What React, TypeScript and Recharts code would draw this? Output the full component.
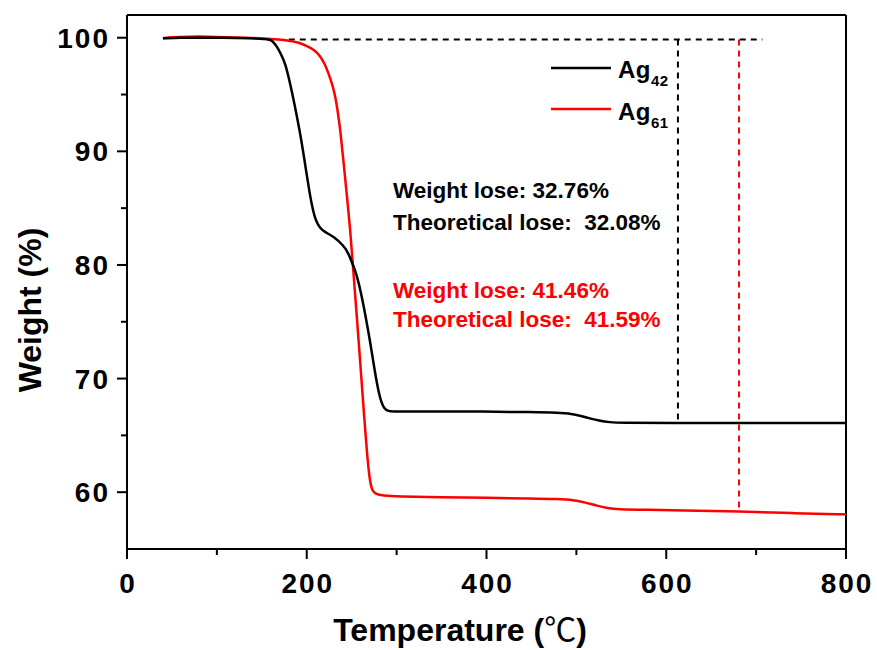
import { LineChart, Line, XAxis, YAxis, ReferenceLine } from 'recharts';

// TGA curves
const ag42Temp = [40, 60, 80, 100, 120, 140, 155, 160, 163, 167, 171, 176, 182, 186, 192, 197, 203.5, 207, 210, 215, 220, 230, 241, 246, 252, 256, 260, 265, 270, 276, 280, 283, 286, 290, 295, 320, 400, 450, 480, 495, 505, 515, 525, 537, 550, 600, 700, 800];
const ag42Weight = [99.95, 100, 100, 100, 99.98, 99.95, 99.9, 99.8, 99.6, 99.2, 98.6, 97.8, 95.8, 94.3, 91.9, 89.5, 86.1, 84.8, 83.9, 83.2, 82.9, 82.5, 81.7, 81.1, 79.9, 79.0, 77.7, 75.7, 73.5, 70.5, 68.8, 67.9, 67.4, 67.15, 67.1, 67.1, 67.1, 67.05, 67.0, 66.9, 66.7, 66.5, 66.3, 66.15, 66.1, 66.1, 66.1, 66.1];

const ag61Temp = [40, 50, 70, 90, 110, 130, 150, 170, 180, 190, 200, 208, 215, 220, 224, 228, 231.7, 234.5, 237.3, 241, 244.7, 248.4, 251.4, 255, 260, 264, 267, 269, 271, 273, 276, 285, 300, 350, 400, 450, 480, 497, 510, 523, 535, 545, 580, 615, 682, 740, 800];
const ag61Weight = [99.95, 100.05, 100.1, 100.1, 100.05, 100, 99.95, 99.85, 99.75, 99.6, 99.3, 98.95, 98.4, 97.7, 96.9, 96.0, 94.9, 93.5, 91.9, 89.0, 86.1, 83.1, 79.9, 76.2, 70.9, 66.5, 63.5, 61.8, 60.7, 60.15, 59.85, 59.7, 59.62, 59.55, 59.5, 59.45, 59.4, 59.3, 59.1, 58.8, 58.6, 58.5, 58.45, 58.4, 58.3, 58.15, 58.05];

const xTicks = [0, 100, 200, 300, 400, 500, 600, 700, 800];
const yTicks = [60, 65, 70, 75, 80, 85, 90, 95, 100];

const seriesNames = ['Ag', 'Ag'];
const seriesSubs = ['42', '61'];

// dashed guide lines (start level / end levels)
const guideTop = 99.85;
const guideLeft = 180;
const guideRight = 707;
const ag42Mark = 613;
const ag42End = 66.1;
const ag61Mark = 681;
const ag61End = 58.3;

const notes42 = ['Weight lose: 32.76%', 'Theoretical lose:\u00a0 32.08%'];
const notes61 = ['Weight lose: 41.46%', 'Theoretical lose:\u00a0 41.59%'];

const ag42 = ag42Temp.map((t, i) => ({ t, w: ag42Weight[i] }));
const ag61 = ag61Temp.map((t, i) => ({ t, w: ag61Weight[i] }));

const FONT = '"Liberation Sans", Arial, sans-serif';
const RED = '#ff0000';

const XTick = (props: any) => {
  const { x, y, payload } = props;
  const major = payload.value % 200 === 0;
  return (
    <g>
      <line x1={x} x2={x} y1={y} y2={y + (major ? 10 : 6)} stroke="#000" strokeWidth={2} />
      {major && (
        <text x={x + 1} y={y + 44} textAnchor="middle" fontFamily={FONT} fontWeight="bold" fontSize={28} letterSpacing={2} fill="#000">
          {payload.value}
        </text>
      )}
    </g>
  );
};

const YTick = (props: any) => {
  const { x, y, payload } = props;
  const major = payload.value % 10 === 0;
  return (
    <g>
      <line x1={x} x2={x - (major ? 10 : 6)} y1={y} y2={y} stroke="#000" strokeWidth={2} />
      {major && (
        <text x={x - 17} y={y + 10} textAnchor="end" fontFamily={FONT} fontWeight="bold" fontSize={28} letterSpacing={2} fill="#000">
          {payload.value}
        </text>
      )}
    </g>
  );
};

export default function App() {
  return (
    <div style={{ position: 'absolute', left: 0, top: 0, background: '#fff' }}>
      <LineChart width={877} height={650} margin={{ top: 15, right: 31, left: 0, bottom: 0 }}>
        <XAxis
          type="number"
          dataKey="t"
          domain={[0, 800]}
          ticks={xTicks}
          tick={<XTick />}
          tickSize={0}
          tickMargin={0}
          tickLine={false}
          axisLine={{ stroke: '#000', strokeWidth: 2 }}
          height={101}
          allowDuplicatedCategory={false}
        />
        <YAxis
          type="number"
          domain={[55, 102]}
          ticks={yTicks}
          tick={<YTick />}
          tickSize={0}
          tickMargin={0}
          tickLine={false}
          axisLine={{ stroke: '#000', strokeWidth: 2 }}
          width={127}
        />
        <ReferenceLine y={102} stroke="#000" strokeWidth={2} />
        <ReferenceLine x={800} stroke="#000" strokeWidth={2} />
        <ReferenceLine
          segment={[{ x: guideLeft, y: guideTop }, { x: guideRight, y: guideTop }]}
          stroke="#000"
          strokeWidth={2}
          strokeDasharray="6 5"
        />
        <ReferenceLine
          segment={[{ x: ag42Mark, y: guideTop }, { x: ag42Mark, y: ag42End }]}
          stroke="#000"
          strokeWidth={2}
          strokeDasharray="6 5"
        />
        <ReferenceLine
          segment={[{ x: ag61Mark, y: guideTop }, { x: ag61Mark, y: ag61End }]}
          stroke={RED}
          strokeWidth={2}
          strokeDasharray="6 5"
        />
        <Line data={ag61} dataKey="w" type="basis" stroke={RED} strokeWidth={2.5} dot={false} isAnimationActive={false} />
        <Line data={ag42} dataKey="w" type="basis" stroke="#000" strokeWidth={2.5} dot={false} isAnimationActive={false} />

        {/* legend */}
        <g fontFamily={FONT} fontWeight="bold">
          <line x1={551} x2={611} y1={68} y2={68} stroke="#000" strokeWidth={2.5} />
          <text x={618} y={78} fontSize={24} letterSpacing={0.5} fill="#000">
            {seriesNames[0]}
            <tspan fontSize={15} dy={8}>{seriesSubs[0]}</tspan>
          </text>
          <line x1={551} x2={611} y1={109} y2={109} stroke={RED} strokeWidth={2.5} />
          <text x={618} y={120} fontSize={24} letterSpacing={0.5} fill="#000">
            {seriesNames[1]}
            <tspan fontSize={15} dy={8}>{seriesSubs[1]}</tspan>
          </text>
        </g>

        {/* annotations */}
        <g fontFamily={FONT} fontWeight="bold" fontSize={22.5}>
          <text x={393} y={198} fill="#000">{notes42[0]}</text>
          <text x={393} y={230} fill="#000">{notes42[1]}</text>
          <text x={393} y={298} fill={RED}>{notes61[0]}</text>
          <text x={393} y={327} fill={RED}>{notes61[1]}</text>
        </g>

        {/* axis titles */}
        <text x={460} y={641} textAnchor="middle" fontFamily={FONT} fontWeight="bold" fontSize={32} fill="#000">
          Temperature (<tspan fontFamily='"Noto Sans CJK SC"' fontWeight="normal">℃</tspan>)
        </text>
        <text x={41} y={310} textAnchor="middle" fontFamily={FONT} fontWeight="bold" fontSize={32} fill="#000" transform="rotate(-90, 41, 310)">
          Weight (%)
        </text>
      </LineChart>
    </div>
  );
}
